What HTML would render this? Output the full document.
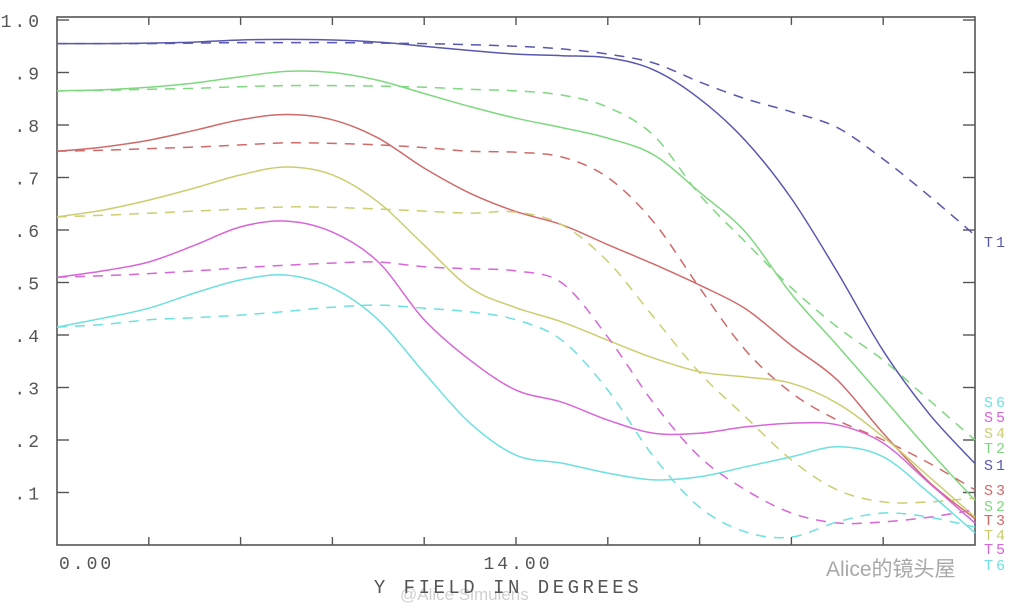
<!DOCTYPE html>
<html><head><meta charset="utf-8"><style>
html,body{margin:0;padding:0;background:#fff;}
body{width:1024px;height:610px;overflow:hidden;}
svg text{font-family:"Liberation Mono","DejaVu Sans Mono",monospace;}
</style></head><body>
<svg id="chart" width="1024" height="610" viewBox="0 0 1024 610" xmlns="http://www.w3.org/2000/svg">
<g id="watermarks">
<text x="826" y="576" font-size="21" fill="#a8a8a8" style="font-family:'Liberation Sans','Noto Sans CJK SC',sans-serif">Alice的镜头屋</text>
<text x="400" y="600" font-size="17" fill="#d0d0d0" style="font-family:'Liberation Sans',sans-serif">@Alice Simulens</text>
</g>
</svg>
<script>
const degrees=[0,1.4,2.8,4.2,5.6,7,8.4,9.8,11.2,12.6,14,15.4,16.8,18.2,19.6,21,22.4,23.8,25.2,26.6,28];
const s1=[.955,.955,.956,.958,.962,.963,.962,.958,.950,.942,.935,.932,.928,.905,.85,.77,.66,.52,.37,.25,.155];
const t1=[.955,.955,.955,.956,.957,.957,.957,.956,.955,.953,.95,.945,.935,.918,.882,.85,.825,.795,.735,.665,.59];
const s2=[.865,.867,.872,.880,.892,.902,.900,.885,.86,.835,.813,.795,.775,.743,.672,.596,.478,.38,.28,.18,.085];
const t2=[.865,.866,.868,.870,.873,.875,.875,.874,.872,.868,.865,.857,.834,.78,.667,.577,.49,.415,.352,.276,.20];
const s3=[.75,.758,.771,.79,.81,.82,.81,.775,.718,.67,.635,.61,.572,.535,.495,.45,.38,.314,.213,.12,.05];
const t3=[.75,.752,.755,.758,.762,.766,.765,.762,.757,.75,.748,.739,.70,.615,.49,.371,.29,.238,.20,.156,.105];
const s4=[.625,.638,.657,.680,.705,.72,.705,.653,.571,.49,.452,.425,.39,.356,.33,.32,.308,.27,.206,.13,.053];
const t4=[.625,.628,.632,.636,.64,.644,.643,.64,.636,.632,.634,.61,.54,.434,.328,.244,.162,.105,.082,.082,.09];
const s5=[.51,.522,.539,.571,.606,.617,.596,.539,.429,.352,.295,.272,.238,.213,.213,.225,.232,.229,.194,.118,.042];
const t5=[.51,.513,.517,.522,.528,.533,.537,.539,.53,.526,.522,.499,.396,.27,.168,.105,.061,.042,.044,.053,.067];
const s6=[.415,.432,.451,.48,.505,.514,.49,.429,.328,.232,.171,.156,.137,.124,.13,.149,.168,.187,.168,.099,.023];
const t6=[.415,.42,.429,.433,.438,.445,.453,.457,.451,.444,.429,.39,.295,.168,.072,.025,.015,.044,.061,.053,.034];
const yTickValues=[.1,.2,.3,.4,.5,.6,.7,.8,.9,1.0];
const yTickLabels=[".1",".2",".3",".4",".5",".6",".7",".8",".9","1.0"];
const xTickValues=[0,2.8,5.6,8.4,11.2,14,16.8,19.6,22.4,25.2,28];
const xTickLabels=["0.00","","","","","14.00","","","","",""];
const legendLabels=["T1","S6","S5","S4","T2","S1","S3","S2","T3","T4","T5","T6"];

const L=57,R=975,T=17,B=545;
function xs(d){return L+d/28*(R-L);}
function ys(v){return B-v*525;}
const NS="http://www.w3.org/2000/svg";
const svg=document.getElementById('chart');
function mk(tag,attrs,parent){const e=document.createElementNS(NS,tag);for(const k in attrs)e.setAttribute(k,attrs[k]);(parent||svg).appendChild(e);return e;}

const axes=mk('g',{});


const frame=mk('rect',{x:L,y:T,width:R-L,height:B-T,fill:'none',stroke:'#555','stroke-width':1.6},axes);


yTickValues.forEach((v,i)=>{
  const y=ys(v);
  const t1e=mk('line',{x1:L,x2:L+12,y1:y,y2:y,stroke:'#555','stroke-width':1.4},axes);
  
  
  const t2e=mk('line',{x1:R-12,x2:R,y1:y,y2:y,stroke:'#555','stroke-width':1.4},axes);
  
  
  const lb=mk('text',{x:42,y:y+7,'font-size':18,fill:'#555','text-anchor':'end','letter-spacing':3},axes);
  lb.textContent=yTickLabels[i];
  
  
});
xTickValues.forEach((d,i)=>{
  const x=xs(d);
  if(i>0&&i<xTickValues.length-1){
    const a=mk('line',{x1:x,x2:x,y1:B,y2:B-8,stroke:'#555','stroke-width':1.4},axes);
    
    
    const b=mk('line',{x1:x,x2:x,y1:T,y2:T+8,stroke:'#555','stroke-width':1.4},axes);
    
    
  }
  if(xTickLabels[i]){
    const lb=mk('text',{x:i===0?x+2:x+2,y:569,'font-size':18,fill:'#555','text-anchor':i===0?'start':'middle','letter-spacing':3},axes);
    lb.textContent=xTickLabels[i];
    
    
  }
});
const xt=mk('text',{x:508,y:593,'font-size':19,fill:'#555','text-anchor':'middle','letter-spacing':3.5},axes);
xt.textContent="Y FIELD IN DEGREES";



function pathFor(vals){
  const p=vals.map((v,i)=>[xs(degrees[i]),ys(v)]);
  let d='M'+p[0][0]+','+p[0][1];
  for(let i=0;i<p.length-1;i++){
    const p0=p[i-1]||p[i],p1=p[i],p2=p[i+1],p3=p[i+2]||p2;
    const c1=[p1[0]+(p2[0]-p0[0])/6,p1[1]+(p2[1]-p0[1])/6];
    const c2=[p2[0]-(p3[0]-p1[0])/6,p2[1]-(p3[1]-p1[1])/6];
    d+=' C'+c1[0].toFixed(1)+','+c1[1].toFixed(1)+' '+c2[0].toFixed(1)+','+c2[1].toFixed(1)+' '+p2[0].toFixed(1)+','+p2[1].toFixed(1);
  }
  return d;
}
const series=[
 ['s1',s1,'#5858b0',false],['t1',t1,'#5858b0',true],
 ['s2',s2,'#7fd87f',false],['t2',t2,'#7fd87f',true],
 ['s3',s3,'#d06a6a',false],['t3',t3,'#d06a6a',true],
 ['s4',s4,'#cdcd70',false],['t4',t4,'#cdcd70',true],
 ['s5',s5,'#d866d8',false],['t5',t5,'#d866d8',true],
 ['s6',s6,'#6ee0e0',false],['t6',t6,'#6ee0e0',true]];
const lines=mk('g',{});


series.forEach(s=>{
  const a={d:pathFor(s[1]),fill:'none',stroke:s[2],'stroke-width':1.5};
  if(s[3])a['stroke-dasharray']='10 8';
  const e=mk('path',a,lines);
  
  
});
const legendColors={T1:'#5858b0',S1:'#5858b0',T2:'#7fd87f',S2:'#7fd87f',T3:'#d06a6a',S3:'#d06a6a',T4:'#cdcd70',S4:'#cdcd70',T5:'#d866d8',S5:'#d866d8',T6:'#6ee0e0',S6:'#6ee0e0'};
const legendY=[247,407,422,438,453,470,495,511,525,540,554,570];
const lg=mk('g',{});


legendLabels.forEach((t,i)=>{
  const e=mk('text',{x:984,y:legendY[i],'font-size':15,fill:legendColors[t],'letter-spacing':3},lg);
  e.textContent=t;
  
  
});
</script>
</body></html>
